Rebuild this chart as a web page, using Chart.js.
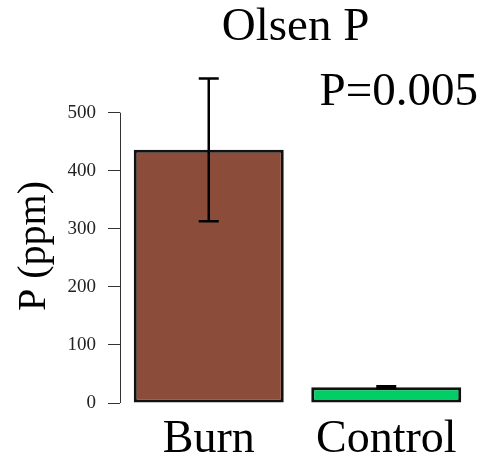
<!DOCTYPE html>
<html>
<head>
<meta charset="utf-8">
<script src="https://cdn.jsdelivr.net/npm/chart.js@4"></script>
<style>
  body { margin: 0; background: #fff; }
</style>
</head>
<body>
<canvas id="chart" width="479" height="467"></canvas>
<script>
const categories = ['Burn', 'Control'];
const olsenP = [436, 27];
const olsenPErr = [123, 2];
const yTicks = [0, 100, 200, 300, 400, 500];
const chartTitle = 'Olsen P';
const pLabel = 'P=0.005';
const yLabel = 'P (ppm)';

const serif = "'Liberation Serif', 'Times New Roman', serif";

// error bars, R-style axis line and the free text
const extras = {
  id: 'extras',
  afterDatasetsDraw(chart) {
    const ctx = chart.ctx;
    const y = chart.scales.y;
    const meta = chart.getDatasetMeta(0);
    ctx.save();
    ctx.strokeStyle = '#000';
    ctx.lineWidth = 2.5;
    meta.data.forEach((bar, i) => {
      const top = y.getPixelForValue(olsenP[i] + olsenPErr[i]);
      const bot = y.getPixelForValue(olsenP[i] - olsenPErr[i]);
      ctx.beginPath();
      ctx.moveTo(bar.x, top); ctx.lineTo(bar.x, bot);
      ctx.moveTo(bar.x - 10, top); ctx.lineTo(bar.x + 10, top);
      ctx.moveTo(bar.x - 10, bot); ctx.lineTo(bar.x + 10, bot);
      ctx.stroke();
    });
    ctx.restore();
  },
  afterDraw(chart) {
    const ctx = chart.ctx;
    const area = chart.chartArea;
    const y = chart.scales.y;
    ctx.save();
    ctx.strokeStyle = '#333';
    ctx.lineWidth = 1;
    ctx.beginPath();
    ctx.moveTo(area.left + 0.5, y.getPixelForValue(yTicks[0]));
    ctx.lineTo(area.left + 0.5, y.getPixelForValue(yTicks[yTicks.length - 1]));
    ctx.stroke();

    ctx.fillStyle = '#000';
    ctx.textBaseline = 'alphabetic';
    ctx.font = '47px ' + serif;
    ctx.textAlign = 'center';
    ctx.fillText(chartTitle, (area.left + area.right) / 2 - 2, 40);
    ctx.textAlign = 'right';
    ctx.fillText(pLabel, 478, 105);

    ctx.font = '40px ' + serif;
    ctx.translate(45, 246);
    ctx.rotate(-Math.PI / 2);
    ctx.textAlign = 'center';
    ctx.fillText(yLabel, 0, 0);
    ctx.restore();
  }
};

new Chart(document.getElementById('chart').getContext('2d'), {
  type: 'bar',
  data: {
    labels: categories,
    datasets: [{
      data: olsenP,
      backgroundColor: ['#8B4C39', '#00CD66'],
      borderColor: '#111',
      borderWidth: 3,
      borderSkipped: false,
      barPercentage: 0.845,
      categoryPercentage: 1
    }]
  },
  options: {
    responsive: false,
    animation: false,
    layout: { padding: { top: 54.6, right: 4, left: 0, bottom: 0 } },
    plugins: {
      legend: { display: false },
      title: { display: false },
      tooltip: { enabled: false }
    },
    scales: {
      x: {
        grid: { display: false, drawTicks: false },
        border: { display: false },
        ticks: {
          color: '#000',
          font: { family: serif, size: 46 },
          padding: 9,
          maxRotation: 0,
          autoSkip: false
        },
        afterFit(scale) { scale.height = 64; }
      },
      y: {
        min: 0,
        max: 600,
        grid: {
          drawOnChartArea: false,
          tickLength: 12,
          color: '#333',
          lineWidth: 1
        },
        border: { display: false },
        ticks: {
          stepSize: 100,
          color: '#222',
          font: { family: serif, size: 19 },
          padding: 12
        },
        afterBuildTicks(scale) {
          scale.ticks = yTicks.map(v => ({ value: v }));
        },
        afterFit(scale) { scale.width = 120; }
      }
    }
  },
  plugins: [extras]
});
</script>
</body>
</html>
